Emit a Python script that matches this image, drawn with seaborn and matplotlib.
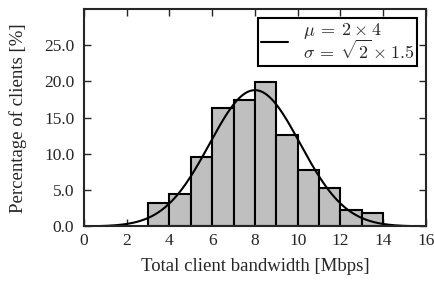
"""
Histogram of total client bandwidth with a fitted normal curve
"""

import numpy as np
import pandas as pd
import matplotlib
matplotlib.use("Agg")
import matplotlib.pyplot as plt
import seaborn as sns

bin_edges = [3, 4, 5, 6, 7, 8, 9, 10, 11, 12, 13, 14]
percent_clients = [3.2, 4.5, 9.6, 16.4, 17.4, 19.9, 12.6, 7.8, 5.3, 2.3, 1.9]
mu = 2 * 4
sigma = np.sqrt(2) * 1.5
x_ticks = [0, 2, 4, 6, 8, 10, 12, 14, 16]
y_ticks = [0, 5, 10, 15, 20, 25]

sns.set_style("ticks")
plt.rcParams["font.family"] = ["Liberation Serif", "DejaVu Serif"]
plt.rcParams["mathtext.fontset"] = "cm"
plt.rcParams["xtick.direction"] = "in"
plt.rcParams["ytick.direction"] = "in"

fig = plt.figure(figsize=(4.35, 2.82), dpi=100)
ax = fig.add_axes([0.193, 0.197, 0.786, 0.771])

df = pd.DataFrame({
    "center": [e + 0.5 for e in bin_edges[:-1]],
    "pct": percent_clients,
})
sns.histplot(df, x="center", weights="pct", bins=bin_edges, stat="count",
             color="#bfbfbf", alpha=1, edgecolor="black", linewidth=1.5, ax=ax)

xs = np.linspace(0, 16, 400)
pdf = 100 * np.exp(-0.5 * ((xs - mu) / sigma) ** 2) / (sigma * np.sqrt(2 * np.pi))
sns.lineplot(x=xs, y=pdf, color="black", linewidth=1.5, ax=ax,
             label="$\\mu\\:=\\:2\\:\\times\\:4$\n$\\sigma\\:=\\:\\sqrt{2}\\:\\times\\:1.5$")

ax.set_xlim(0, 16)
ax.set_ylim(0, 30)
ax.set_xticks(x_ticks)
ax.set_yticks(y_ticks)
ax.set_yticklabels([f"{v:.1f}" for v in y_ticks])
ax.tick_params(top=True, right=True, length=5, width=1, labelsize=12.5)
ax.tick_params(axis="x", pad=5)
ax.tick_params(axis="y", pad=7)
for s in ax.spines.values():
    s.set_linewidth(1.5)
ax.set_xlabel("Total client bandwidth [Mbps]", fontsize=13.5, labelpad=6)
ax.set_ylabel("Percentage of clients [%]", fontsize=13.5, labelpad=12)

leg = ax.legend(loc="upper right", fontsize=13, fancybox=False, framealpha=1,
                edgecolor="black", handlelength=1.5, borderaxespad=0.5,
                borderpad=0.15)
leg.get_frame().set_linewidth(1.5)
for t in leg.get_texts():
    t.set_linespacing(0.95)

fig.savefig("out.png", dpi=100)
